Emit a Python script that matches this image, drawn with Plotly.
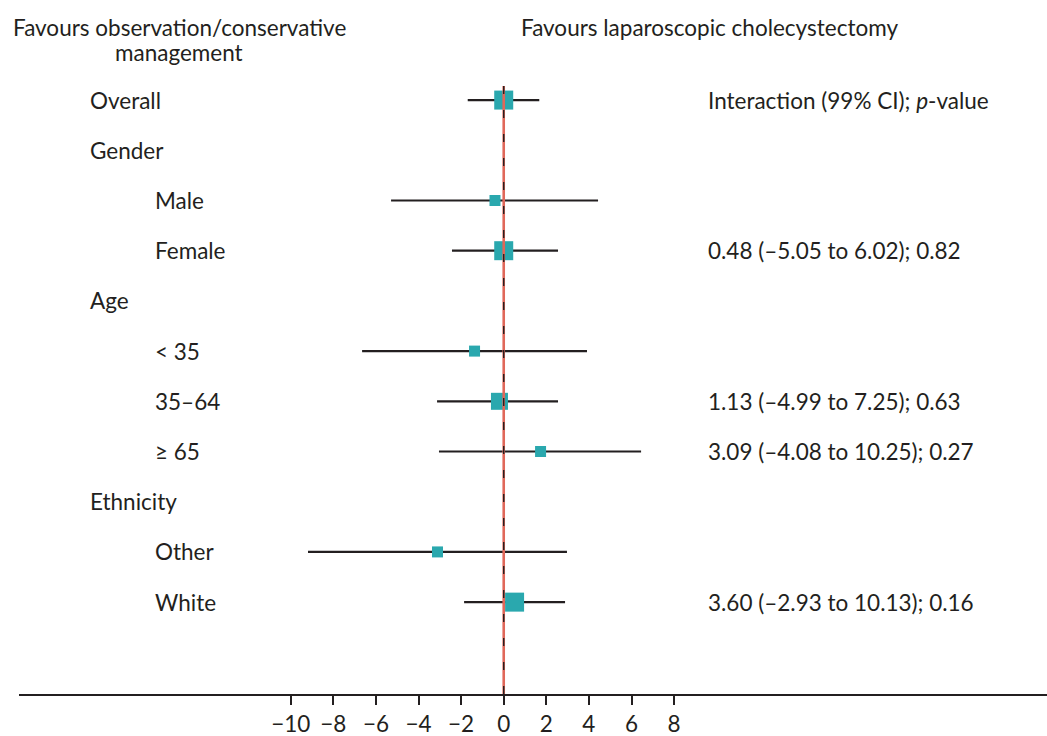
import plotly.graph_objects as go

# ---- data ----
row_labels = ["Overall", "Gender", "Male", "Female", "Age", "< 35", "35–64", "≥ 65",
              "Ethnicity", "Other", "White"]
row_indent = [0, 0, 1, 1, 0, 1, 1, 1, 0, 1, 1]
est_rows = [0, 2, 3, 5, 6, 7, 9, 10]
estimate = [0.0, -0.41, 0.0, -1.37, -0.20, 1.73, -3.11, 0.51]
ci_low = [-1.69, -5.29, -2.43, -6.65, -3.13, -3.04, -9.19, -1.86]
ci_high = [1.67, 4.43, 2.55, 3.91, 2.55, 6.45, 2.97, 2.88]
weight_size = [19, 11, 19, 11, 17, 11, 11, 19]
interaction_rows = [0, 3, 6, 7, 10]
interaction_text = ["Interaction (99% CI); <i>p</i>-value",
                    "0.48 (–5.05 to 6.02); 0.82",
                    "1.13 (–4.99 to 7.25); 0.63",
                    "3.09 (–4.08 to 10.25); 0.27",
                    "3.60 (–2.93 to 10.13); 0.16"]
tick_vals = [-10, -8, -6, -4, -2, 0, 2, 4, 6, 8]
tick_text = ["−10", "−8", "−6", "−4", "−2", "0", "2", "4", "6", "8"]
header_left = ["Favours observation/conservative", "management"]
header_right = "Favours laparoscopic cholecystectomy"

FONT = "Lato"
FS = 22.5
TXT = "#231f20"
TEAL = "#2aa8ae"
RED = "#e0685a"

fig = go.Figure()

# CI lines
cx, cy = [], []
for r, lo, hi in zip(est_rows, ci_low, ci_high):
    cx += [lo, hi, None]
    cy += [r, r, None]
fig.add_trace(go.Scatter(x=cx, y=cy, mode="lines",
                         line=dict(color=TXT, width=2.2), hoverinfo="skip"))

# point estimates
fig.add_trace(go.Scatter(x=estimate, y=est_rows, mode="markers",
                         marker=dict(symbol="square", size=weight_size, color=TEAL,
                                     opacity=1, line=dict(width=0))))

# reference line
fig.add_trace(go.Scatter(x=[0, 0], y=[-0.28, 11.83], mode="lines",
                         line=dict(color=RED, width=2.6), hoverinfo="skip"))
fig.add_trace(go.Scatter(x=[0, 0], y=[-0.28, 11.95], mode="lines",
                         line=dict(color=TXT, width=1.4, dash="8px,16px"), hoverinfo="skip"))

# row labels
label_px = {0: 88, 1: 153}
for i, (lab, ind) in enumerate(zip(row_labels, row_indent)):
    px = label_px[ind]
    fig.add_annotation(x=(px - 19) / 1028, xref="paper", y=i, yref="y",
                       text=lab, showarrow=False, xanchor="left", yanchor="middle",
                       font=dict(family=FONT, size=FS, color=TXT))

# interaction texts
for r, t in zip(interaction_rows, interaction_text):
    fig.add_annotation(x=(706 - 19) / 1028, xref="paper", y=r, yref="y",
                       text=t, showarrow=False, xanchor="left", yanchor="middle",
                       font=dict(family=FONT, size=FS, color=TXT))

# headers
for py, t in zip([28, 53], header_left):
    fig.add_annotation(x=(179 - 19) / 1028, xref="paper", y=(694 - py) / 614, yref="paper",
                       text=t, showarrow=False, xanchor="center", yanchor="middle",
                       font=dict(family=FONT, size=FS, color=TXT))
fig.add_annotation(x=(709 - 19) / 1028, xref="paper", y=(694 - 28) / 614, yref="paper",
                   text=header_right, showarrow=False,
                   xanchor="center", yanchor="middle",
                   font=dict(family=FONT, size=FS, color=TXT))

fig.update_layout(
    width=1047, height=736,
    margin=dict(l=19, r=0, t=80, b=42),
    paper_bgcolor="white", plot_bgcolor="white",
    showlegend=False,
    xaxis=dict(range=[-22.76, 25.51], showgrid=False, zeroline=False,
               showline=True, linecolor=TXT, linewidth=2,
               ticks="outside", ticklen=9, tickwidth=2, tickcolor=TXT,
               tickvals=tick_vals, ticktext=tick_text,
               tickfont=dict(family=FONT, size=FS, color=TXT), fixedrange=True),
    yaxis=dict(range=[11.83, -0.4], visible=False, fixedrange=True),
)

fig.write_html("out.html")
